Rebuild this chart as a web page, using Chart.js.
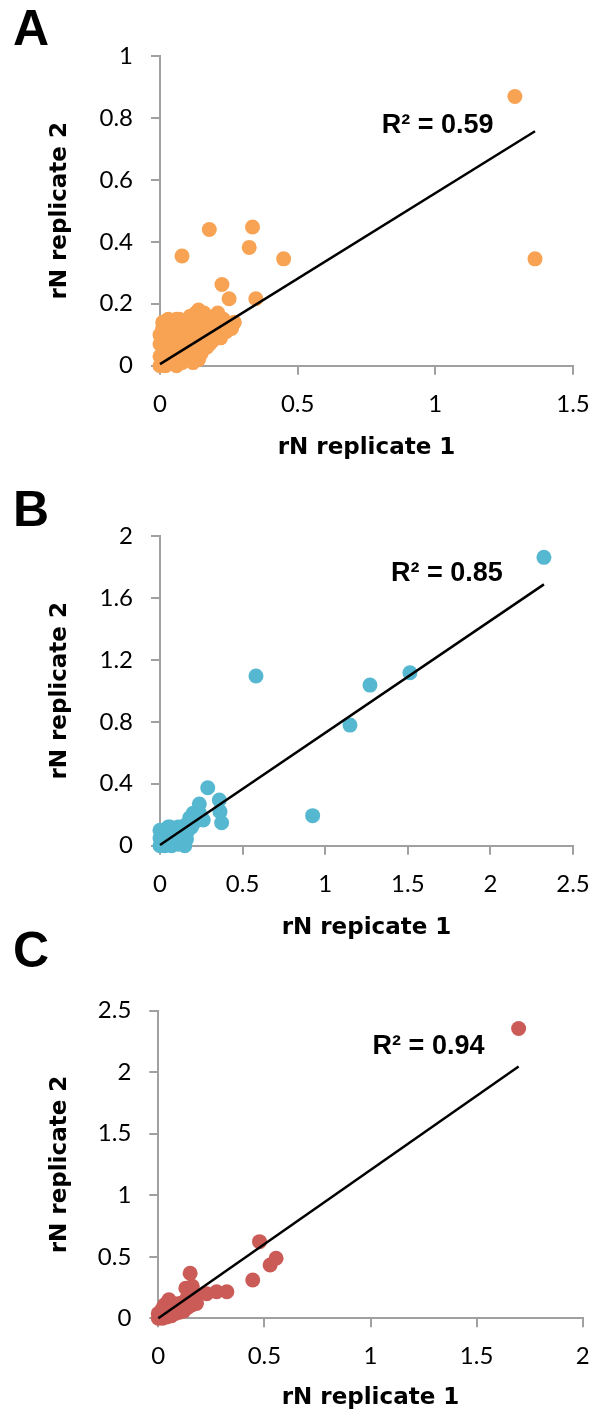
<!DOCTYPE html>
<html>
<head>
<meta charset="utf-8">
<script src="https://cdn.jsdelivr.net/npm/chart.js@4.4.0/dist/chart.umd.min.js"></script>
<style>
  body { margin: 0; background: #fff; width: 593px; height: 1418px; position: relative; overflow: hidden; }
  .painel { position: absolute; left: 0; width: 593px; }
  .letra { position: absolute; left: 13px; font-family: 'Liberation Sans', Arial, sans-serif; font-weight: bold; font-size: 50px; line-height: 50px; color: #000; }
</style>
</head>
<body>
<div class="painel" style="top:0px;height:470px"><canvas id="graficoA"></canvas></div>
<div class="painel" style="top:470px;height:480px"><canvas id="graficoB"></canvas></div>
<div class="painel" style="top:950px;height:468px"><canvas id="graficoC"></canvas></div>
<div class="letra" style="top:3px">A</div>
<div class="letra" style="top:484px">B</div>
<div class="letra" style="top:925px">C</div>
<script>
// Painel A - rN replicata 1 x replicata 2
const xA = [0.00, 0.01, 0.02, 0.04, 0.06, 0.08, 0.10, 0.12, 0.14, 0.05,
    0.00, 0.02, 0.04, 0.07, 0.09, 0.11, 0.13, 0.15,
    0.01, 0.03, 0.05, 0.08, 0.10, 0.12, 0.14, 0.18, 0.17,
    0.01, 0.03, 0.05, 0.07, 0.09, 0.12, 0.15, 0.18, 0.21, 0.25, 0.23,
    0.03, 0.06, 0.12, 0.14, 0.20, 0.23, 0.18,
    0.02, 0.03, 0.05, 0.06, 0.08, 0.09, 0.11, 0.12, 0.13, 0.15, 0.16, 0.16, 0.19, 0.20, 0.22, 0.24,
    0.26, 0.27, 0.10, 0.08, 0.04, 0.02, 0.00, 0.00, 0.01, 0.11, 0.13, 0.16, 0.21, 0.07, 0.10, 0.14, 0.17, 0.19,
    0.08, 0.179, 0.336, 0.324, 0.449, 0.225, 0.251, 0.348, 1.289, 1.362];
const yA = [0.00, 0.01, 0.00, 0.01, 0.00, 0.01, 0.02, 0.01, 0.02, 0.02,
    0.03, 0.05, 0.04, 0.05, 0.04, 0.06, 0.05, 0.04,
    0.08, 0.09, 0.07, 0.08, 0.09, 0.08, 0.10, 0.07, 0.10,
    0.12, 0.14, 0.12, 0.13, 0.11, 0.13, 0.12, 0.12, 0.11, 0.13, 0.12,
    0.15, 0.15, 0.16, 0.18, 0.16, 0.15, 0.15,
    0.02, 0.06, 0.09, 0.06, 0.03, 0.07, 0.03, 0.04, 0.08, 0.07, 0.09, 0.14, 0.10, 0.13, 0.09, 0.11,
    0.12, 0.14, 0.14, 0.12, 0.13, 0.10, 0.07, 0.10, 0.14, 0.16, 0.17, 0.17, 0.17, 0.15, 0.11, 0.13, 0.06, 0.08,
    0.354, 0.44, 0.448, 0.382, 0.345, 0.262, 0.216, 0.216, 0.869, 0.345];
const ticksXA = ['0', '0.5', '1', '1.5'];
const ticksYA = ['0', '0.2', '0.4', '0.6', '0.8', '1'];
const inclinacaoA = 0.552;
const interceptoA = 0.005;

// Painel B
const xB = [0.00, 0.01, 0.02, 0.03, 0.05, 0.07, 0.09, 0.11, 0.15, 0.13,
    0.00, 0.02, 0.04, 0.06, 0.08, 0.10, 0.12, 0.14, 0.16,
    0.00, 0.03, 0.05, 0.07, 0.09, 0.11, 0.13, 0.15, 0.17, 0.19, 0.21, 0.18, 0.20, 0.22,
    0.01, 0.03, 0.04, 0.06, 0.08, 0.10, 0.12, 0.14, 0.16, 0.17, 0.19, 0.20, 0.23, 0.24, 0.25, 0.06, 0.02,
    0.238, 0.262, 0.289, 0.359, 0.363, 0.373, 0.581, 0.924, 1.150, 1.271, 1.513, 2.324];
const yB = [0.00, 0.02, 0.01, 0.00, 0.01, 0.00, 0.02, 0.01, 0.00, 0.03,
    0.05, 0.07, 0.05, 0.04, 0.06, 0.05, 0.07, 0.06, 0.08,
    0.10, 0.09, 0.12, 0.10, 0.11, 0.12, 0.11, 0.13, 0.12, 0.15, 0.17, 0.18, 0.21, 0.19,
    0.06, 0.04, 0.02, 0.08, 0.03, 0.08, 0.03, 0.09, 0.04, 0.10, 0.12, 0.14, 0.17, 0.21, 0.18, 0.12, 0.03,
    0.269, 0.166, 0.374, 0.295, 0.22, 0.148, 1.096, 0.194, 0.779, 1.037, 1.117, 1.862];
const ticksXB = ['0', '0.5', '1', '1.5', '2', '2.5'];
const ticksYB = ['0', '0.4', '0.8', '1.2', '1.6', '2'];
const inclinacaoB = 0.724;
const interceptoB = 0.005;

// Painel C
const xC = [0.00, 0.01, 0.02, 0.03, 0.04, 0.05, 0.06, 0.08, 0.10, 0.12,
    0.00, 0.02, 0.04, 0.06, 0.05, 0.03, 0.08, 0.10, 0.12, 0.14, 0.16, 0.17, 0.13, 0.15,
    0.01, 0.03, 0.07, 0.09, 0.11, 0.14, 0.15, 0.16, 0.18, 0.17, 0.02, 0.07, 0.09,
    0.13, 0.16, 0.15, 0.228, 0.275, 0.323, 0.445, 0.477, 0.527, 0.555, 1.698];
const yC = [0.00, 0.01, 0.00, 0.02, 0.01, 0.03, 0.02, 0.04, 0.05, 0.06,
    0.04, 0.06, 0.08, 0.10, 0.15, 0.11, 0.09, 0.12, 0.10, 0.09, 0.11, 0.14, 0.15, 0.19,
    0.03, 0.05, 0.05, 0.07, 0.08, 0.11, 0.13, 0.16, 0.12, 0.20, 0.08, 0.12, 0.10,
    0.245, 0.26, 0.366, 0.20, 0.216, 0.216, 0.311, 0.623, 0.433, 0.488, 2.355];
const ticksXC = ['0', '0.5', '1', '1.5', '2'];
const ticksYC = ['0', '0.5', '1', '1.5', '2', '2.5'];
const inclinacaoC = 1.205;
const interceptoC = 0.0;

const corEixo = '#A0A0A0';

// escreve o R² na posicao (em unidades do grafico)
const pluginR2 = {
    id: 'textoR2',
    afterDatasetsDraw(chart, args, opts) {
        const ctx = chart.ctx;
        ctx.save();
        ctx.font = 'bold 27px "Liberation Sans"';
        ctx.fillStyle = '#000';
        ctx.textAlign = 'left';
        ctx.textBaseline = 'middle';
        ctx.fillText(opts.texto, chart.scales.x.getPixelForValue(opts.x), chart.scales.y.getPixelForValue(opts.y));
        ctx.restore();
    }
};

function plotarGrafico(idCanvas, c) {
    const pontos = c.xs.map((x, i) => ({ x: x, y: c.ys[i] }));
    const xMaximo = Math.max(...c.xs);
    const tendencia = [
        { x: 0, y: c.intercepto },
        { x: xMaximo, y: c.intercepto + c.inclinacao * xMaximo }
    ];

    const config = {
        type: 'scatter',
        data: {
            datasets: [{
                type: 'line',
                data: tendencia,
                borderColor: '#000',
                borderWidth: 2.5,
                pointRadius: 0,
                fill: false,
                clip: false,
                order: 0
            }, {
                data: pontos,
                backgroundColor: c.cor,
                borderWidth: 0,
                pointRadius: 7.5,
                pointHoverRadius: 7.5,
                clip: false,
                order: 1
            }]
        },
        options: {
            responsive: true,
            maintainAspectRatio: false,
            animation: false,
            events: [],
            layout: { padding: { top: c.topo, right: c.direita, left: 0, bottom: 0 } },
            plugins: {
                legend: { display: false },
                tooltip: { enabled: false },
                textoR2: { texto: c.r2, x: c.r2x, y: c.r2y }
            },
            scales: {
                x: {
                    type: 'linear',
                    min: 0,
                    max: c.xMax,
                    ticks: {
                        stepSize: c.xPasso,
                        autoSkip: false,
                        maxRotation: 0,
                        padding: 15,
                        color: '#000',
                        font: { family: 'Lato', size: 24 },
                        callback: (v, i) => c.ticksX[i]
                    },
                    grid: { drawOnChartArea: false, tickLength: 9, color: corEixo, lineWidth: 2 },
                    border: { color: corEixo, width: 2 },
                    title: {
                        display: true,
                        text: c.tituloX,
                        color: '#000',
                        font: { family: 'DejaVu Sans', size: 23, weight: 'bold' },
                        padding: { top: 0, bottom: c.tituloXbaixo }
                    },
                    afterFit: function (s) {
                        s.height = c.alturaX;
                        s.paddingLeft = 0;
                        s.paddingRight = 0;
                    }
                },
                y: {
                    type: 'linear',
                    min: 0,
                    max: c.yMax,
                    ticks: {
                        stepSize: c.yPasso,
                        autoSkip: false,
                        padding: 18,
                        color: '#000',
                        font: { family: 'Lato', size: 24 },
                        callback: (v, i) => c.ticksY[i]
                    },
                    grid: { drawOnChartArea: false, tickLength: 9, color: corEixo, lineWidth: 2 },
                    border: { color: corEixo, width: 2 },
                    title: {
                        display: true,
                        text: 'rN replicate 2',
                        color: '#000',
                        font: { family: 'DejaVu Sans', size: 23, weight: 'bold' },
                        padding: { top: 46, bottom: 0 }
                    },
                    afterFit: function (s) {
                        s.width = c.larguraY;
                        s.paddingTop = 0;
                        s.paddingBottom = 0;
                    }
                }
            }
        },
        plugins: [pluginR2]
    };

    new Chart(document.getElementById(idCanvas), config);
}

plotarGrafico('graficoA', {
    xs: xA, ys: yA, cor: '#F8A253',
    inclinacao: inclinacaoA, intercepto: interceptoA,
    xMax: 1.5, xPasso: 0.5, yMax: 1, yPasso: 0.2,
    ticksX: ticksXA, ticksY: ticksYA,
    tituloX: 'rN replicate 1',
    topo: 56, direita: 20, alturaX: 104.3, larguraY: 160, tituloXbaixo: 8,
    r2: 'R² = 0.59', r2x: 0.805, r2y: 0.774
});

plotarGrafico('graficoB', {
    xs: xB, ys: yB, cor: '#55B8D0',
    inclinacao: inclinacaoB, intercepto: interceptoB,
    xMax: 2.5, xPasso: 0.5, yMax: 2, yPasso: 0.4,
    ticksX: ticksXB, ticksY: ticksYB,
    tituloX: 'rN repicate 1',
    topo: 66, direita: 20, alturaX: 104.3, larguraY: 160, tituloXbaixo: 8,
    r2: 'R² = 0.85', r2x: 1.398, r2y: 1.759
});

plotarGrafico('graficoC', {
    xs: xC, ys: yC, cor: '#CB5B57',
    inclinacao: inclinacaoC, intercepto: interceptoC,
    xMax: 2, xPasso: 0.5, yMax: 2.5, yPasso: 0.5,
    ticksX: ticksXC, ticksY: ticksYC,
    tituloX: 'rN replicate 1',
    topo: 60.7, direita: 10.3, alturaX: 99.7, larguraY: 158.3, tituloXbaixo: 6,
    r2: 'R² = 0.94', r2x: 1.01, r2y: 2.208
});
</script>
</body>
</html>
